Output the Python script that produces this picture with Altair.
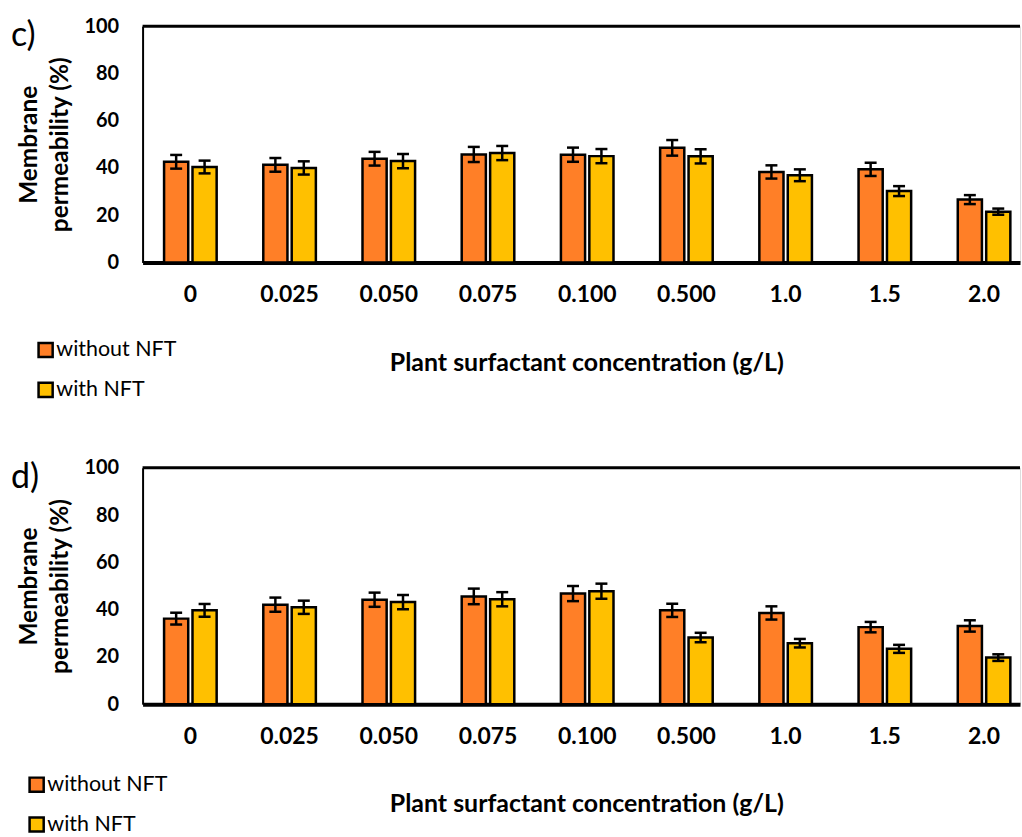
import altair as alt
import pandas as pd

categories = ["0", "0.025", "0.050", "0.075", "0.100", "0.500", "1.0", "1.5", "2.0"]
series = ["without NFT", "with NFT"]
colors = ["#FF7F27", "#FFC000"]

c_without = [42.6, 41.3, 43.9, 45.7, 45.6, 48.5, 38.3, 39.4, 26.6]
c_without_err = [2.9, 2.9, 2.9, 3.2, 3.0, 3.3, 2.8, 2.8, 1.9]
c_with = [40.4, 40.0, 42.9, 46.3, 45.0, 44.9, 36.9, 30.2, 21.5]
c_with_err = [2.7, 2.8, 3.0, 3.0, 3.0, 3.0, 2.5, 2.1, 1.3]

d_without = [36.2, 42.1, 44.2, 45.6, 46.8, 39.7, 38.6, 32.6, 33.1]
d_without_err = [2.5, 3.0, 3.0, 3.3, 3.2, 2.8, 2.8, 2.2, 2.4]
d_with = [39.7, 41.0, 43.2, 44.4, 47.8, 28.2, 25.8, 23.4, 19.7]
d_with_err = [2.7, 2.8, 3.0, 3.0, 3.2, 2.0, 1.8, 1.7, 1.4]

W = 880
H = 237
FONT = "Lato"


def make_df(v1, e1, v2, e2):
    rows = []
    for cat, v, e in zip(categories, v1, e1):
        rows.append({"conc": cat, "series": series[0], "value": v, "lo": v - e, "hi": v + e})
    for cat, v, e in zip(categories, v2, e2):
        rows.append({"conc": cat, "series": series[1], "value": v, "lo": v - e, "hi": v + e})
    return pd.DataFrame(rows)


def panel(letter, df, legx, legy):
    base = alt.Chart(df)
    x = alt.X(
        "conc:N",
        sort=categories,
        scale=alt.Scale(paddingInner=0.47, paddingOuter=0.157, align=0.69),
        axis=alt.Axis(
            title="Plant surfactant concentration (g/L)",
            labelAngle=0,
            labelFont=FONT,
            labelFontSize=23,
            labelFontWeight="bold",
            labelColor="black",
            labelPadding=21,
            tickSize=0,
            domainColor="black",
            domainWidth=4,
            titleFont=FONT,
            titleFontSize=25,
            titleFontWeight="bold",
            titleColor="black",
            titleX=445,
            titleY=100,
            titleBaseline="middle",
        ),
    )
    xoff = alt.XOffset("series:N", sort=series, scale=alt.Scale(paddingInner=0.15))
    y = alt.Y(
        "value:Q",
        scale=alt.Scale(domain=[0, 100]),
        axis=alt.Axis(
            title=["Membrane", "permeability (%)"],
            values=[0, 20, 40, 60, 80, 100],
            grid=False,
            tickSize=0,
            labelPadding=24,
            labelFont=FONT,
            labelFontSize=20,
            labelFontWeight="bold",
            labelColor="black",
            domainColor="black",
            domainWidth=2,
            titleFont=FONT,
            titleFontSize=24.5,
            titleFontWeight="bold",
            titleColor="black",
            titleX=-125,
            titleBaseline="top",
            titleLineHeight=31,
        ),
    )
    bars = base.mark_bar(stroke="black", strokeWidth=2.5).encode(
        x=x,
        xOffset=xoff,
        y=y,
        color=alt.Color(
            "series:N",
            sort=series,
            scale=alt.Scale(domain=series, range=colors),
            legend=alt.Legend(
                title=None,
                orient="none",
                legendX=legx,
                legendY=legy,
                direction="vertical",
                symbolType="square",
                symbolSize=200,
                symbolStrokeColor="black",
                symbolStrokeWidth=2.5,
                symbolOpacity=1,
                labelFont=FONT,
                labelFontSize=21.5,
                labelColor="black",
                labelOffset=0,
                rowPadding=15,
            ),
        ),
    )
    rule = base.mark_rule(color="black", strokeWidth=2.5).encode(
        x=alt.X("conc:N", sort=categories),
        xOffset=alt.XOffset("series:N", sort=series),
        y="lo:Q",
        y2="hi:Q",
    )
    cap_hi = base.mark_tick(color="black", thickness=2.5, size=12, opacity=1).encode(
        x=alt.X("conc:N", sort=categories),
        xOffset=alt.XOffset("series:N", sort=series),
        y="hi:Q",
    )
    cap_lo = base.mark_tick(color="black", thickness=2.5, size=12, opacity=1).encode(
        x=alt.X("conc:N", sort=categories),
        xOffset=alt.XOffset("series:N", sort=series),
        y="lo:Q",
    )
    top_line = alt.Chart(pd.DataFrame({"a": [0]})).mark_rule(color="black", strokeWidth=3).encode(
        x=alt.value(0), x2=alt.value(W), y=alt.value(0)
    )
    lbl = alt.Chart(pd.DataFrame({"t": [letter]})).mark_text(
        font=FONT, fontSize=34, align="left", baseline="alphabetic", color="black"
    ).encode(text="t:N", x=alt.value(-132), y=alt.value(20))
    return alt.layer(bars, rule, cap_hi, cap_lo, top_line, lbl).properties(width=W, height=H)


top = panel("c)", make_df(c_without, c_without_err, c_with, c_with_err), -108, 314)
bottom = panel("d)", make_df(d_without, d_without_err, d_with, d_with_err), -117, 307)

chart = (
    alt.vconcat(top, bottom, spacing=54)
    .resolve_scale(color="independent")
    .properties(padding={"left": 10, "top": 14, "right": 0, "bottom": 0})
    .configure_view(strokeWidth=0)
    .configure(font=FONT)
)

chart.save("out.html", embed_options={"renderer": "svg", "actions": False})
